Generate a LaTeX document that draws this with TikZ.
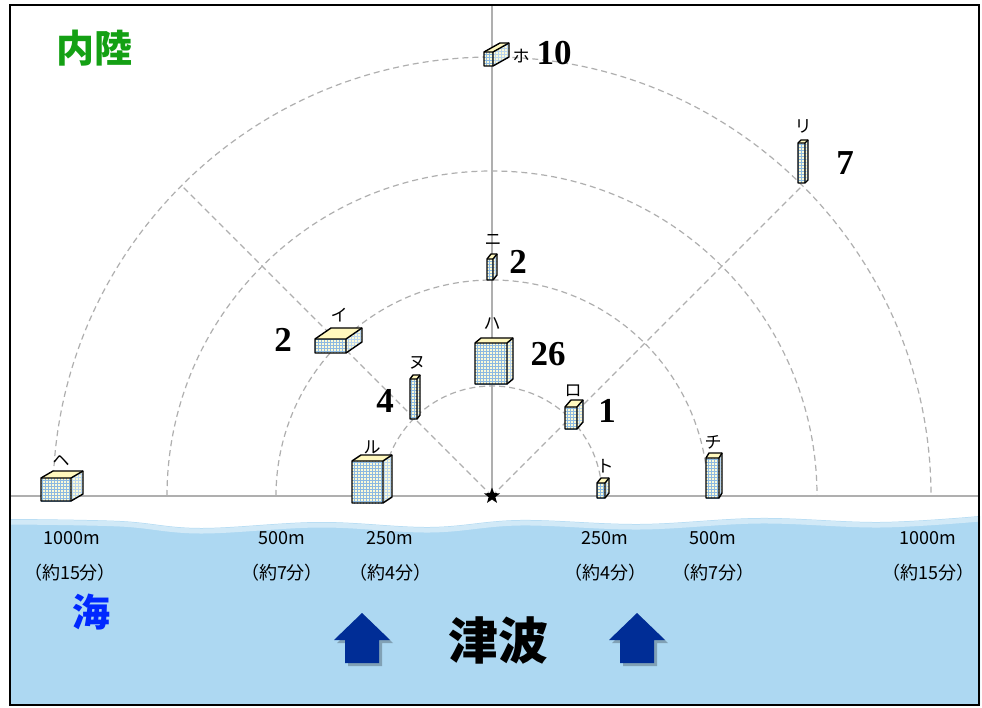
\documentclass[tikz,border=0pt]{standalone}
\usepackage{fontspec}
\newfontfamily\jpfont{Noto Sans CJK JP}
\newfontfamily\numfont{Liberation Serif}
\usetikzlibrary{patterns,shapes.geometric}

\definecolor{seablue}{RGB}{173,216,242}
\definecolor{arrowblue}{RGB}{0,45,150}
\definecolor{landgreen}{RGB}{20,160,20}
\definecolor{seatext}{RGB}{0,40,255}
\definecolor{guide}{RGB}{175,175,175}
\definecolor{facebg}{RGB}{252,250,215}
\definecolor{topbg}{RGB}{255,248,190}
\definecolor{gridblue}{RGB}{140,185,225}

\tikzset{
  guideline/.style={draw=guide, line width=1.3pt},
  ring/.style={draw=guide, line width=1.2pt, dash pattern=on 6pt off 4pt},
  frontface/.style={preaction={fill=facebg}, pattern=grid, pattern color=gridblue},
  sideface/.style={preaction={fill=facebg}, pattern=grid, pattern color=gridblue!60},
  topface/.style={fill=topbg},
  bldgline/.style={draw=black, line width=1.4pt, line join=round},
  kana/.style={font=\jpfont\fontsize{17}{19}\selectfont, inner sep=0pt},
  count/.style={font=\numfont\bfseries\fontsize{35}{37}\selectfont, inner sep=0pt},
  dist/.style={font=\jpfont\fontsize{18}{21}\selectfont, inner sep=0pt},
  pics/bldg/.style n args={4}{code={
    % #1 front width, #2 height, #3/#4 depth offset (x, up)
    \path[frontface] (0,0) rectangle (#1,-#2);
    \path[sideface] (#1,0) -- (#1+#3,-#4) -- (#1+#3,-#2-#4) -- (#1,-#2) -- cycle;
    \path[topface] (0,-#2) -- (#3,-#2-#4) -- (#1+#3,-#2-#4) -- (#1,-#2) -- cycle;
    \draw[bldgline] (0,0) -- (#1,0) -- (#1+#3,-#4) -- (#1+#3,-#2-#4)
      -- (#3,-#2-#4) -- (0,-#2) -- cycle;
    \draw[bldgline] (0,-#2) -- (#1,-#2) -- (#1+#3,-#2-#4) (#1,-#2) -- (#1,0);
  }},
  pics/uparrow/.style={code={
    \fill[black, opacity=0.25] (3,3) -- (31,30) -- (20,30) -- (20,53) -- (-14,53)
      -- (-14,30) -- (-25,30) -- cycle;
    \fill[arrowblue] (0,0) -- (28,27) -- (17,27) -- (17,50) -- (-17,50)
      -- (-17,27) -- (-28,27) -- cycle;
  }},
}

\begin{document}
\begin{tikzpicture}[x=1pt, y=-1pt]
\useasboundingbox (0,0) rectangle (982,708);
\fill[white] (0,0) rectangle (982,708);

% sea
\fill[seablue] plot[smooth, tension=0.6] coordinates {(10,519) (120,521) (200,528)
  (320,522) (430,527) (520,520) (640,524) (760,518) (880,522) (980,516)}
  -- (980,705) -- (10,705) -- cycle;
\draw[white, opacity=0.45, line width=5pt] plot[smooth, tension=0.6] coordinates
  {(10,522) (120,524) (200,531) (320,525) (430,530) (520,523) (640,527)
  (760,521) (880,525) (980,519)};

% shore line and inland axis
\coordinate (o) at (492,496);
\coordinate (west) at (10,496);
\coordinate (east) at (980,496);
\coordinate (north) at (492,6);
\draw[guideline] (west) -- (east);
\draw[guideline] (o) -- (north);

% distance rings
\foreach \r in {110,216,325,439}
  \draw[ring] (492-\r,496) arc[start angle=180, end angle=360, radius=\r];
\coordinate (ne) at (802,186);
\coordinate (nw) at (182,186);
\draw[ring] (o) -- (ne);
\draw[ring] (o) -- (nw);

% buildings
\pic (he) at (41,501) {bldg={30}{23}{12}{7}};
\pic (i) at (315,353) {bldg={31}{14}{16}{11}};
\pic (nu) at (410,419) {bldg={7}{40}{3}{4}};
\pic (ru) at (352,503) {bldg={31}{42}{9}{6}};
\pic (ha) at (475,384) {bldg={32}{41}{6}{5}};
\pic (ni) at (487,280) {bldg={6}{21}{4}{5}};
\pic (ho) at (484,66) {bldg={9}{14}{16}{9}};
\pic (ro) at (565,429) {bldg={12}{22}{6}{7}};
\pic (to) at (597,498) {bldg={8}{15}{4}{5}};
\pic (chi) at (706,498) {bldg={13}{40}{3}{5}};
\pic (ri) at (798,183) {bldg={7}{40}{3}{3}};

% building names
\node[kana] (lhe) at (61,461) {ヘ};
\node[kana] (li) at (339,315) {イ};
\node[kana] (lnu) at (417,363) {ヌ};
\node[kana] (lru) at (372,447) {ル};
\node[kana] (lha) at (492,324) {ハ};
\node[kana] (lni) at (493,240) {ニ};
\node[kana] (lho) at (521,56) {ホ};
\node[kana] (lro) at (573,391) {ロ};
\node[kana] (lto) at (605,466) {ト};
\node[kana] (lchi) at (713,442) {チ};
\node[kana] (lri) at (803,126) {リ};

% counts
\node[count] (cho) at (554,53) {10};
\node[count] (cri) at (845,163) {7};
\node[count] (cni) at (518,262) {2};
\node[count] (ci) at (283,340) {2};
\node[count] (cha) at (548,354) {26};
\node[count] (cnu) at (385,401) {4};
\node[count] (cro) at (607,411) {1};

% origin
\node[star, star points=5, star point ratio=2.4, fill=black, minimum size=17pt,
  inner sep=0pt] (star) at (o) {};

% distances along the shore
\node[dist] (d1) at (72,538) {1000m};
\node[dist] (t1) at (70,573) {（約15分）};
\node[dist] (d2) at (282,538) {500m};
\node[dist] (t2) at (282,573) {（約7分）};
\node[dist] (d3) at (390,538) {250m};
\node[dist] (t3) at (390,573) {（約4分）};
\node[dist] (d4) at (605,538) {250m};
\node[dist] (t4) at (605,573) {（約4分）};
\node[dist] (d5) at (713,538) {500m};
\node[dist] (t5) at (713,573) {（約7分）};
\node[dist] (d6) at (928,538) {1000m};
\node[dist] (t6) at (928,573) {（約15分）};

% region titles
\node[font=\jpfont\bfseries\fontsize{38}{42}\selectfont, text=landgreen,
  inner sep=0pt] (inland) at (94,48) {内陸};
\node[font=\jpfont\bfseries\fontsize{38}{42}\selectfont, text=seatext,
  inner sep=0pt] (sea) at (91,612) {海};
\node[font=\jpfont\bfseries\fontsize{50}{56}\selectfont, inner sep=0pt] (tsunami)
  at (498,640) {津波};

% incoming waves
\pic (wl) at (362,613) {uparrow};
\pic (wr) at (637,613) {uparrow};

% frame
\draw[black, line width=2pt] (10,5) rectangle (979,705);
\end{tikzpicture}
\end{document}
